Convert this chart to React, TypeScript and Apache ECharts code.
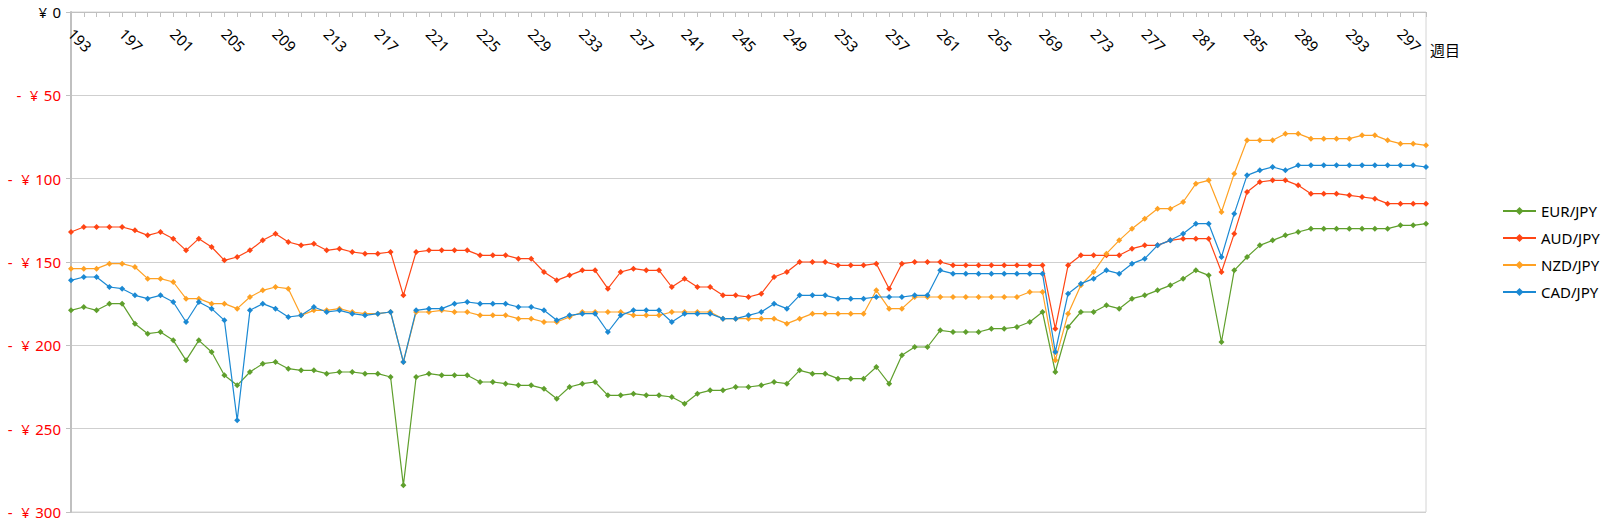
import React, { useEffect, useRef } from "react";
import * as echarts from "echarts";

const weeks: string[] = [];
for (let w = 193; w <= 299; w++) weeks.push(String(w));

const eurJpy = [
  -179, -177, -179, -175, -175, -187, -193, -192, -197, -209, -197, -204, -218, -224, -216, -211, -210, -214,
  -215, -215, -217, -216, -216, -217, -217, -219, -284, -219, -217, -218, -218, -218, -222, -222, -223, -224,
  -224, -226, -232, -225, -223, -222, -230, -230, -229, -230, -230, -231, -235, -229, -227, -227, -225, -225,
  -224, -222, -223, -215, -217, -217, -220, -220, -220, -213, -223, -206, -201, -201, -191, -192, -192, -192,
  -190, -190, -189, -186, -180, -216, -189, -180, -180, -176, -178, -172, -170, -167, -164, -160, -155, -158,
  -198, -155, -147, -140, -137, -134, -132, -130, -130, -130, -130, -130, -130, -130, -128, -128, -127,
];

const audJpy = [
  -132, -129, -129, -129, -129, -131, -134, -132, -136, -143, -136, -141, -149, -147, -143, -137, -133, -138,
  -140, -139, -143, -142, -144, -145, -145, -144, -170, -144, -143, -143, -143, -143, -146, -146, -146, -148,
  -148, -156, -161, -158, -155, -155, -166, -156, -154, -155, -155, -165, -160, -165, -165, -170, -170, -171,
  -169, -159, -156, -150, -150, -150, -152, -152, -152, -151, -166, -151, -150, -150, -150, -152, -152, -152,
  -152, -152, -152, -152, -152, -190, -152, -146, -146, -146, -146, -142, -140, -140, -137, -136, -136, -136,
  -156, -133, -108, -102, -101, -101, -104, -109, -109, -109, -110, -111, -112, -115, -115, -115, -115,
];

const nzdJpy = [
  -154, -154, -154, -151, -151, -153, -160, -160, -162, -172, -172, -175, -175, -178, -171, -167, -165, -166,
  -182, -179, -179, -178, -180, -181, -181, -180, -210, -180, -180, -179, -180, -180, -182, -182, -182, -184,
  -184, -186, -186, -183, -180, -180, -180, -180, -182, -182, -182, -180, -180, -180, -180, -184, -184, -184,
  -184, -184, -187, -184, -181, -181, -181, -181, -181, -167, -178, -178, -171, -171, -171, -171, -171, -171,
  -171, -171, -171, -168, -168, -209, -181, -164, -156, -145, -137, -130, -124, -118, -118, -114, -103, -101,
  -120, -97, -77, -77, -77, -73, -73, -76, -76, -76, -76, -74, -74, -77, -79, -79, -80,
];

const cadJpy = [
  -161, -159, -159, -165, -166, -170, -172, -170, -174, -186, -174, -178, -185, -245, -179, -175, -178, -183,
  -182, -177, -180, -179, -181, -182, -181, -180, -210, -179, -178, -178, -175, -174, -175, -175, -175, -177,
  -177, -179, -185, -182, -181, -181, -192, -182, -179, -179, -179, -186, -181, -181, -181, -184, -184, -182,
  -180, -175, -178, -170, -170, -170, -172, -172, -172, -171, -171, -171, -170, -170, -155, -157, -157, -157,
  -157, -157, -157, -157, -157, -204, -169, -163, -160, -155, -157, -151, -148, -140, -137, -133, -127, -127,
  -147, -121, -98, -95, -93, -95, -92, -92, -92, -92, -92, -92, -92, -92, -92, -92, -93,
];

const seriesNames = ["EUR/JPY", "AUD/JPY", "NZD/JPY", "CAD/JPY"];
const seriesColors = ["#5f9f2c", "#ff4514", "#ffa123", "#1b89d3"];
const seriesData = [eurJpy, audJpy, nzdJpy, cadJpy];

const FONT = '"Noto Sans", "Noto Sans CJK JP", sans-serif';

export default function App() {
  const ref = useRef<HTMLDivElement>(null);
  useEffect(() => {
    if (!ref.current) return;
    const chart = echarts.init(ref.current, null, { renderer: "svg" });
    chart.setOption({
      animation: false,
      backgroundColor: "#ffffff",
      textStyle: { fontFamily: FONT },
      grid: {
        left: 71,
        right: 175,
        top: 12,
        bottom: 10,
        show: true,
        borderColor: "#d4d4d4",
        borderWidth: 1,
      },
      legend: {
        orient: "vertical",
        left: 1497,
        top: 198,
        itemWidth: 33,
        itemHeight: 10,
        itemGap: 11,
        textStyle: { fontSize: 15, color: "#000", fontFamily: FONT, lineHeight: 16 },
        data: seriesNames,
      },
      graphic: [
        {
          type: "text",
          left: 1430,
          top: 42,
          style: { text: "週目", fontSize: 15, fill: "#000", fontFamily: FONT },
        },
      ],
      xAxis: {
        type: "category",
        position: "top",
        data: weeks,
        boundaryGap: false,
        axisLine: { show: true, lineStyle: { color: "#c0c0c0", width: 1 } },
        axisTick: { show: true, inside: true, length: 5, interval: 0, lineStyle: { color: "#c0c0c0" } },
        axisLabel: {
          inside: true,
          interval: 3,
          rotate: -45,
          margin: 19,
          fontSize: 15,
          color: "#000",
          fontFamily: FONT,
        },
        splitLine: { show: false },
      },
      yAxis: {
        type: "value",
        min: -300,
        max: 0,
        interval: 50,
        axisLine: { show: true, lineStyle: { color: "#c0c0c0", width: 2 } },
        axisTick: { show: true, length: 5, lineStyle: { color: "#c0c0c0" } },
        axisLabel: {
          margin: 10,
          fontSize: 15,
          fontFamily: FONT,
          formatter: (v: number) => (v === 0 ? "¥ \u200A0" : "-\u2007¥ \u200A" + String(-v)),
          color: (v: any) => (Number(v) === 0 ? "#000000" : "#ff0000"),
        },
        splitLine: { show: true, lineStyle: { color: "#cfcfcf", width: 1 } },
      },
      series: seriesNames.map((name, i) => ({
        name,
        type: "line",
        data: seriesData[i],
        symbol: "diamond",
        symbolSize: 6,
        showSymbol: true,
        color: seriesColors[i],
        lineStyle: { width: 1.2, color: seriesColors[i] },
        itemStyle: { color: seriesColors[i] },
      })),
    });
    return () => chart.dispose();
  }, []);
  return (
    <div
      ref={ref}
      style={{ position: "absolute", left: 0, top: 0, width: 1601, height: 522 }}
    />
  );
}
